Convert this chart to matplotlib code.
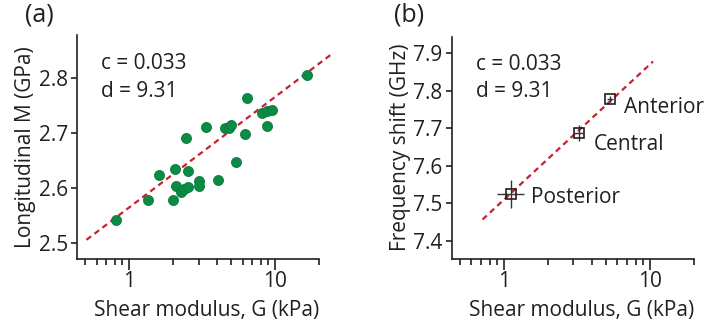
"""Brillouin vs shear modulus: two-panel scatter with log-linear fit lines."""

import matplotlib
matplotlib.use("Agg")
import matplotlib.pyplot as plt
from matplotlib.ticker import FixedLocator, NullFormatter, FixedFormatter

plt.rcParams["font.family"] = ["Open Sans", "DejaVu Sans"]

# ---- panel (a): individual samples ----
g_a = [0.817, 1.34, 1.60, 1.99, 2.07, 2.10, 2.27, 2.37, 2.55, 2.54, 2.46,
       3.03, 3.03, 3.34, 4.07, 4.51, 4.83, 4.98, 5.39, 6.20, 6.46, 8.08,
       8.78, 9.49, 8.78, 16.5]
m_a = [2.542, 2.579, 2.623, 2.579, 2.635, 2.603, 2.592, 2.599, 2.601, 2.631, 2.690,
       2.612, 2.603, 2.710, 2.615, 2.709, 2.709, 2.715, 2.648, 2.698, 2.764, 2.736,
       2.740, 2.741, 2.712, 2.805]
fit_a_g = [0.511, 24.6]
fit_a_m = [2.506, 2.844]

# ---- panel (b): regional means ----
regions = ["Anterior", "Central", "Posterior"]
g_b = [5.34, 3.26, 1.116]
g_b_err_lo = [0.22, 0.21, 0.224]
g_b_err_hi = [0.22, 0.25, 0.259]
f_b = [7.777, 7.688, 7.524]
f_b_err = [0.008, 0.021, 0.037]
fit_b_g = [0.716, 10.54]
fit_b_f = [7.457, 7.878]

GREEN = "#0b8c45"
RED = "#c8202f"
INK = "#231f20"
FS = 15

fig = plt.figure(figsize=(7.07, 3.26), dpi=100)
W, H = 707.0, 326.0
ax1 = fig.add_axes([77 / W, (H - 258.5) / H, 242 / W, 223.5 / H])
ax2 = fig.add_axes([451.7 / W, (H - 258.5) / H, 242 / W, 221.8 / H])


def style_axis(ax):
    ax.set_xscale("log")
    ax.set_xlim(0.44, 20)
    for s in ("top", "right"):
        ax.spines[s].set_visible(False)
    for s in ("left", "bottom"):
        ax.spines[s].set_linewidth(1.2)
        ax.spines[s].set_color(INK)
    ax.xaxis.set_major_locator(FixedLocator([1, 10]))
    ax.xaxis.set_major_formatter(FixedFormatter(["1", "10"]))
    ax.xaxis.set_minor_locator(FixedLocator(
        [0.5, 0.6, 0.7, 0.8, 0.9, 2, 3, 4, 5, 6, 7, 8, 9, 20]))
    ax.xaxis.set_minor_formatter(NullFormatter())
    ax.tick_params(axis="x", which="major", length=8, width=1.2,
                   labelsize=FS, pad=1, colors=INK)
    ax.tick_params(axis="x", which="minor", length=4.5, width=1.2, colors=INK)
    ax.tick_params(axis="y", which="major", length=4.5, width=1.2,
                   labelsize=FS, pad=2, colors=INK)
    ax.set_xlabel("Shear modulus, G (kPa)", fontsize=FS, color=INK)
    ax.xaxis.set_label_coords(0.535, -0.185)


# (a)
style_axis(ax1)
ax1.set_ylim(2.472, 2.878)
ax1.set_yticks([2.5, 2.6, 2.7, 2.8])
ax1.plot(fit_a_g, fit_a_m, ls=(0, (2.6, 1.9)), color=RED, lw=1.6,
         clip_on=False, zorder=3)
ax1.scatter(g_a, m_a, s=52, color=GREEN, edgecolors="#0a7a3c",
            linewidths=0.6, zorder=4, clip_on=False)
ax1.set_ylabel("Longitudinal M (GPa)", fontsize=FS, labelpad=2, color=INK)
ax1.text(101 / W, (H - 69) / H, "c = 0.033", transform=fig.transFigure,
         fontsize=FS, color=INK)
ax1.text(101 / W, (H - 96.7) / H, "d = 9.31", transform=fig.transFigure,
         fontsize=FS, color=INK)
fig.text(25 / W, (H - 22) / H, "(a)", fontsize=FS + 3, color=INK)

# (b)
style_axis(ax2)
ax2.set_ylim(7.353, 7.944)
ax2.set_yticks([7.4, 7.5, 7.6, 7.7, 7.8, 7.9])
ax2.plot(fit_b_g, fit_b_f, ls=(0, (2.6, 1.9)), color=RED, lw=1.6,
         clip_on=False, zorder=3)
ax2.errorbar(g_b, f_b, xerr=[g_b_err_lo, g_b_err_hi], yerr=f_b_err,
             fmt="s", ms=7.5, mfc="none", mec=INK, mew=1.2,
             ecolor="#333333", elinewidth=1.0, capsize=0, zorder=4)
ax2.set_ylabel("Frequency shift (GHz)", fontsize=FS, labelpad=2, color=INK)
ax2.text(476 / W, (H - 70) / H, "c = 0.033", transform=fig.transFigure,
         fontsize=FS, color=INK)
ax2.text(476 / W, (H - 97.3) / H, "d = 9.31", transform=fig.transFigure,
         fontsize=FS, color=INK)
label_pos = [(624, 113.3), (594, 150), (531, 203.3)]
for name, (px, py) in zip(regions, label_pos):
    fig.text(px / W, (H - py) / H, name, fontsize=FS, color=INK)
fig.text(394 / W, (H - 22) / H, "(b)", fontsize=FS + 3, color=INK)

fig.savefig("out.png", dpi=100)
